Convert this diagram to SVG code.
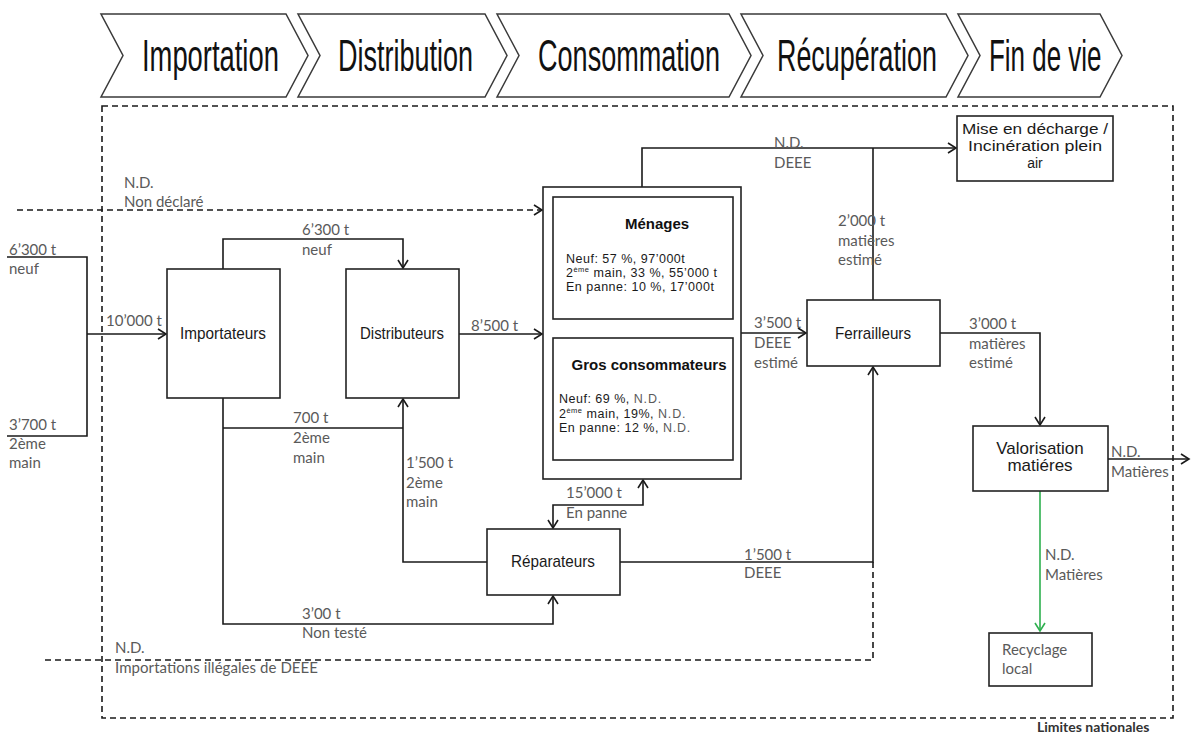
<svg xmlns="http://www.w3.org/2000/svg" width="1192" height="738" viewBox="0 0 1192 738">
<style>
.chev{fill:#fff;stroke:#3a3a3a;stroke-width:1.5}
.hd{font-family:"Liberation Sans",Arial,sans-serif;font-size:44px;fill:#111}
.box{fill:#fff;stroke:#222;stroke-width:1.6}
.nl{font-family:"Liberation Sans",Arial,sans-serif;font-size:17px;fill:#1a1a1a;text-anchor:middle}
.ml{font-family:"Liberation Sans",Arial,sans-serif;font-size:14px;fill:#1a1a1a;text-anchor:middle}
.bt{font-family:"Liberation Sans",Arial,sans-serif;font-size:15px;font-weight:bold;fill:#111;text-anchor:middle}
.st{font-family:"Liberation Sans",Arial,sans-serif;font-size:12.5px;letter-spacing:0.5px;fill:#1a1a1a}
.nd{fill:#5a5a5a;letter-spacing:0.8px}
.gl{font-family:Lato,"Open Sans",sans-serif;font-size:15px;fill:#5a5a5a}
.ln{fill:none;stroke:#1a1a1a;stroke-width:1.6}
.ds{fill:none;stroke:#1a1a1a;stroke-width:1.6;stroke-dasharray:6 4}
.gr{fill:none;stroke:#2eb04f;stroke-width:1.6}
</style>
<defs>
<marker id="ar" markerWidth="12" markerHeight="12" refX="9" refY="6" orient="auto" markerUnits="userSpaceOnUse">
<path d="M1,1 L9,6 L1,11" fill="none" stroke="#1a1a1a" stroke-width="1.6"/>
</marker>
<marker id="ars" markerWidth="12" markerHeight="12" refX="9" refY="6" orient="auto-start-reverse" markerUnits="userSpaceOnUse">
<path d="M1,1 L9,6 L1,11" fill="none" stroke="#1a1a1a" stroke-width="1.6"/>
</marker>
<marker id="arg" markerWidth="12" markerHeight="12" refX="9" refY="6" orient="auto" markerUnits="userSpaceOnUse">
<path d="M1,1 L9,6 L1,11" fill="none" stroke="#2eb04f" stroke-width="1.6"/>
</marker>
</defs>
<rect width="1192" height="738" fill="#fff"/>

<g id="header">
<polygon class="chev" points="101,14 286,14 308,55.5 286,97 101,97 123,55.5"/>
<polygon class="chev" points="298,14 485,14 507,55.5 485,97 298,97 320,55.5"/>
<polygon class="chev" points="497,14 729,14 751,55.5 729,97 497,97 519,55.5"/>
<polygon class="chev" points="741,14 946,14 968,55.5 946,97 741,97 763,55.5"/>
<polygon class="chev" points="958,14 1100,14 1122,55.5 1100,97 958,97 980,55.5"/>
<text class="hd" transform="translate(142,71) scale(0.622,1)">Importation</text>
<text class="hd" transform="translate(338,71) scale(0.614,1)">Distribution</text>
<text class="hd" transform="translate(538,71) scale(0.615,1)">Consommation</text>
<text class="hd" transform="translate(777,71) scale(0.611,1)">Récupération</text>
<text class="hd" transform="translate(989,71) scale(0.59,1)">Fin de vie</text>
</g>

<g id="border">
<rect x="102" y="106" width="1071" height="612" class="ds"/>
<text x="1037" y="732" font-family="Lato,'Open Sans',sans-serif" font-size="14" font-weight="bold" fill="#333">Limites nationales</text>
</g>

<g id="connectors">
<polyline class="ln" points="7,257 87,257 87,436 7,436"/>
<line class="ln" x1="87" y1="334" x2="166" y2="334" marker-end="url(#ar)"/>
<line class="ds" x1="17" y1="210" x2="542" y2="210" marker-end="url(#ar)"/>
<polyline class="ln" points="223,269 223,239 403,239 403,268" marker-end="url(#ar)"/>
<line class="ln" x1="459" y1="334" x2="542" y2="334" marker-end="url(#ar)"/>
<polyline class="ln" points="223,398 223,624 553,624 553,596" marker-end="url(#ar)"/>
<line class="ln" x1="223" y1="428" x2="403" y2="428"/>
<polyline class="ln" points="487,562 403,562 403,399" marker-end="url(#ar)"/>
<polyline class="ln" points="553,528 553,505 643,505 643,480" marker-start="url(#ars)" marker-end="url(#ars)"/>
<polyline class="ln" points="620,562 873,562 873,367" marker-end="url(#ar)"/>
<polyline class="ds" points="45,660 873,660 873,562"/>
<line class="ln" x1="741" y1="333" x2="806" y2="333" marker-end="url(#ar)"/>
<polyline class="ln" points="642,187 642,148 956,148" marker-end="url(#ar)"/>
<line class="ln" x1="873" y1="300" x2="873" y2="148"/>
<polyline class="ln" points="940,333 1040,333 1040,425" marker-end="url(#ar)"/>
<line class="ln" x1="1108" y1="459" x2="1189" y2="459" marker-end="url(#ar)"/>
<line class="gr" x1="1040" y1="491" x2="1040" y2="631" marker-end="url(#arg)"/>
</g>

<g id="importateurs">
<rect class="box" x="167" y="269" width="113" height="129"/>
<text class="nl" x="223" y="339" textLength="86" lengthAdjust="spacingAndGlyphs">Importateurs</text>
</g>
<g id="distributeurs">
<rect class="box" x="346" y="269" width="113" height="129"/>
<text class="nl" x="402" y="339" textLength="84" lengthAdjust="spacingAndGlyphs">Distributeurs</text>
</g>
<g id="consommation">
<rect class="box" x="543" y="187" width="198" height="292"/>
<g id="menages">
<rect class="box" x="553" y="197" width="180" height="122"/>
<text class="bt" x="657" y="229">Ménages</text>
<text class="st" x="566" y="263">Neuf: 57 %, 97’000t</text>
<text class="st" x="566" y="277">2<tspan font-size="7.5" dy="-5">ème</tspan><tspan dy="5"> main, 33 %, 55’000 t</tspan></text>
<text class="st" x="566" y="291">En panne: 10 %, 17’000t</text>
</g>
<g id="gros">
<rect class="box" x="553" y="338" width="180" height="122"/>
<text class="bt" x="649" y="370">Gros consommateurs</text>
<text class="st" x="559" y="403">Neuf: 69 %, <tspan class="nd">N.D.</tspan></text>
<text class="st" x="559" y="418">2<tspan font-size="7.5" dy="-5">ème</tspan><tspan dy="5"> main, 19%, </tspan><tspan class="nd">N.D.</tspan></text>
<text class="st" x="559" y="432">En panne: 12 %, <tspan class="nd">N.D.</tspan></text>
</g>
</g>
<g id="reparateurs">
<rect class="box" x="487" y="529" width="133" height="66"/>
<text class="nl" x="553" y="567" textLength="84" lengthAdjust="spacingAndGlyphs">Réparateurs</text>
</g>
<g id="ferrailleurs">
<rect class="box" x="807" y="300" width="133" height="66"/>
<text class="nl" x="873" y="339" textLength="76" lengthAdjust="spacingAndGlyphs">Ferrailleurs</text>
</g>
<g id="decharge">
<rect class="box" x="957" y="116" width="156" height="65"/>
<text class="ml" x="1035" y="134" textLength="146" lengthAdjust="spacingAndGlyphs">Mise en décharge /</text>
<text class="ml" x="1035" y="151" textLength="134" lengthAdjust="spacingAndGlyphs">Incinération plein</text>
<text class="ml" x="1035" y="168">air</text>
</g>
<g id="valorisation">
<rect class="box" x="973" y="426" width="135" height="65"/>
<text class="nl" x="1040" y="454" font-size="15">Valorisation</text>
<text class="nl" x="1040" y="471" font-size="15">matiéres</text>
</g>
<g id="recyclage">
<rect class="box" x="989" y="633" width="103" height="53"/>
<text class="gl" x="1002" y="655">Recyclage</text>
<text class="gl" x="1002" y="674">local</text>
</g>

<g id="labels">
<text class="gl" x="124" y="188">N.D.</text>
<text class="gl" x="124" y="207">Non déclaré</text>
<text class="gl" x="9" y="255">6’300 t</text>
<text class="gl" x="9" y="274">neuf</text>
<text class="gl" x="106" y="326">10’000 t</text>
<text class="gl" x="9" y="430">3’700 t</text>
<text class="gl" x="9" y="449">2ème</text>
<text class="gl" x="9" y="468">main</text>
<text class="gl" x="302" y="235">6’300 t</text>
<text class="gl" x="302" y="255">neuf</text>
<text class="gl" x="471" y="331">8’500 t</text>
<text class="gl" x="293" y="423">700 t</text>
<text class="gl" x="293" y="443">2ème</text>
<text class="gl" x="293" y="463">main</text>
<text class="gl" x="406" y="468">1’500 t</text>
<text class="gl" x="406" y="488">2ème</text>
<text class="gl" x="406" y="507">main</text>
<text class="gl" x="566" y="498">15’000 t</text>
<text class="gl" x="566" y="518">En panne</text>
<text class="gl" x="744" y="560">1’500 t</text>
<text class="gl" x="744" y="578">DEEE</text>
<text class="gl" x="302" y="619">3’00 t</text>
<text class="gl" x="302" y="638">Non testé</text>
<text class="gl" x="115" y="653">N.D.</text>
<text class="gl" x="115" y="673" textLength="203">Importations illégales de DEEE</text>
<text class="gl" x="774" y="148">N.D.</text>
<text class="gl" x="774" y="168">DEEE</text>
<text class="gl" x="838" y="226">2’000 t</text>
<text class="gl" x="838" y="246">matières</text>
<text class="gl" x="838" y="265">estimé</text>
<text class="gl" x="754" y="328">3’500 t</text>
<text class="gl" x="754" y="348">DEEE</text>
<text class="gl" x="754" y="368">estimé</text>
<text class="gl" x="969" y="329">3’000 t</text>
<text class="gl" x="969" y="349">matières</text>
<text class="gl" x="969" y="368">estimé</text>
<text class="gl" x="1111" y="457">N.D.</text>
<text class="gl" x="1111" y="477">Matières</text>
<text class="gl" x="1045" y="560">N.D.</text>
<text class="gl" x="1045" y="580">Matières</text>
</g>
</svg>
